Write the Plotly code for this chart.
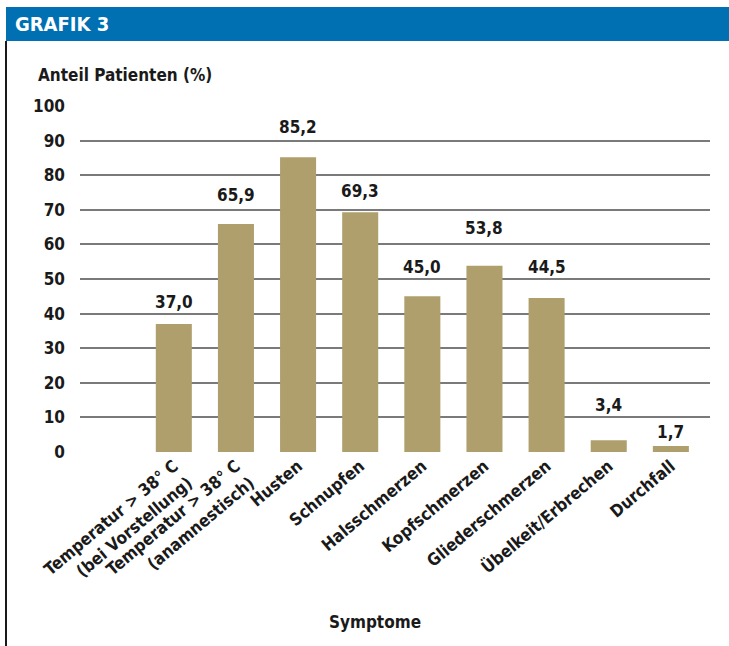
import plotly.graph_objects as go

categories = [
    "Temperatur > 38° C<br>(bei Vorstellung)",
    "Temperatur > 38° C<br>(anamnestisch)",
    "Husten",
    "Schnupfen",
    "Halsschmerzen",
    "Kopfschmerzen",
    "Gliederschmerzen",
    "Übelkeit/Erbrechen",
    "Durchfall",
]
values = [37.0, 65.9, 85.2, 69.3, 45.0, 53.8, 44.5, 3.4, 1.7]
value_labels = ["37,0", "65,9", "85,2", "69,3", "45,0", "53,8", "44,5", "3,4", "1,7"]
y_ticks = [0, 10, 20, 30, 40, 50, 60, 70, 80, 90, 100]

# vertical pixel gap between bar top and centre of its value label (style)
label_gaps = [22, 29, 30, 21, 29, 38, 31, 35, 14]

W, H = 729, 646
FONT = "DejaVu Sans Condensed, Liberation Sans Narrow, Arial Narrow, sans-serif"
BAR = "#ae9f6c"
GRID = "#7a7a7a"
TXT = "#1a1a1a"

def px(x):
    return x / W

def py(y):
    return 1 - y / H

fig = go.Figure()
fig.add_trace(go.Bar(
    x=list(range(len(categories))), y=values,
    marker=dict(color=BAR, line=dict(width=0)),
    width=0.58,
    hoverinfo="skip",
))

for i, (v, lab, g) in enumerate(zip(values, value_labels, label_gaps)):
    fig.add_annotation(x=i, y=v, text="<b>%s</b>" % lab, showarrow=False,
                       xref="x", yref="y", yanchor="middle", yshift=g,
                       font=dict(family=FONT, size=17, color=TXT))

fig.update_layout(
    width=W, height=H,
    margin=dict(l=0, r=0, t=0, b=0),
    paper_bgcolor="white", plot_bgcolor="white",
    showlegend=False,
    font=dict(family=FONT, color=TXT),
    xaxis=dict(
        domain=[px(80), px(710)],
        range=[-1.51, 8.63],
        tickmode="array",
        tickvals=list(range(len(categories))),
        ticktext=["<b>%s</b>" % c for c in categories],
        tickangle=-40,
        tickfont=dict(family=FONT, size=17, color=TXT),
        showgrid=False, zeroline=False, showline=False,
        ticks="", automargin=False,
    ),
    yaxis=dict(
        domain=[py(452), py(106)],
        range=[0, 100],
        tickmode="array",
        tickvals=y_ticks,
        ticktext=["<b>%d</b>" % t for t in y_ticks],
        tickfont=dict(family=FONT, size=17, color=TXT),
        showgrid=True, gridcolor=GRID, gridwidth=2,
        zeroline=False, showline=False, ticks="",
        ticklabelstandoff=14,
        automargin=False,
    ),
    shapes=[
        dict(type="rect", xref="paper", yref="paper",
             x0=px(6), x1=1, y0=py(41), y1=py(7),
             fillcolor="#0070b2", line=dict(width=0), layer="above"),
        dict(type="line", xref="paper", yref="paper",
             x0=px(6), x1=px(6), y0=py(41), y1=0,
             line=dict(color=TXT, width=2)),
    ],
)

fig.add_annotation(xref="paper", yref="paper", x=px(13), y=py(24),
                   xanchor="left", yanchor="middle", showarrow=False,
                   text="<b>GRAFIK 3</b>",
                   font=dict(family=FONT, size=20, color="white"))
fig.add_annotation(xref="paper", yref="paper", x=px(36), y=py(75),
                   xanchor="left", yanchor="middle", showarrow=False,
                   text="<b>Anteil Patienten (%)</b>",
                   font=dict(family=FONT, size=17, color=TXT))
fig.add_annotation(xref="paper", yref="paper", x=px(375), y=py(622),
                   xanchor="center", yanchor="middle", showarrow=False,
                   text="<b>Symptome</b>",
                   font=dict(family=FONT, size=17, color=TXT))

fig.write_html("out.html")
